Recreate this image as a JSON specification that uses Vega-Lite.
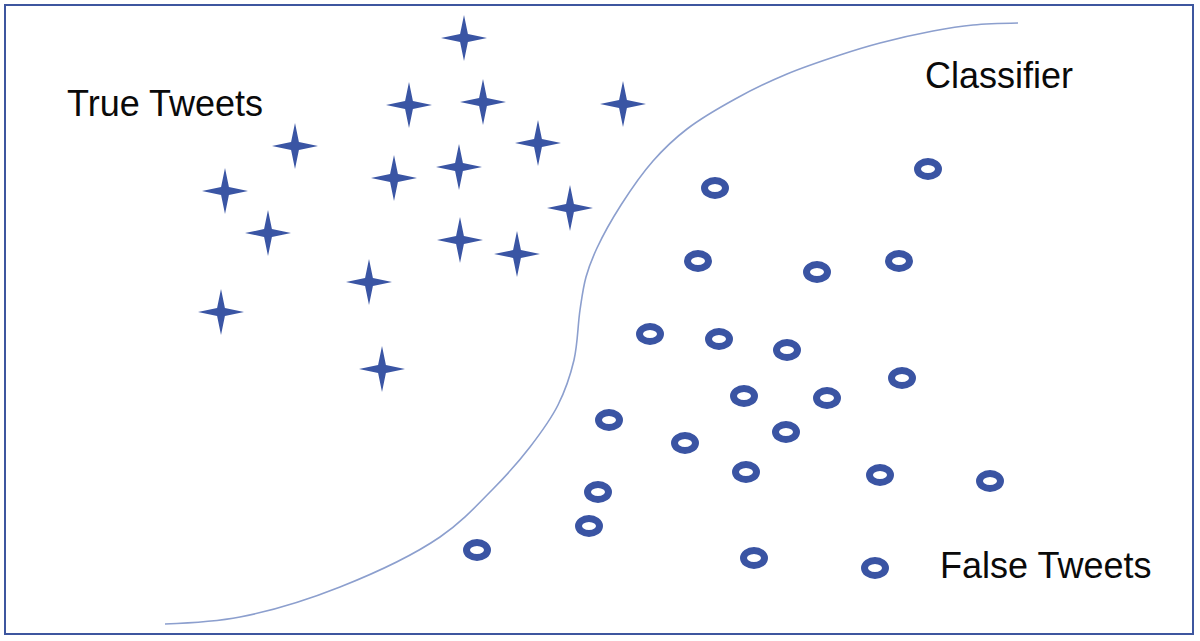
{
  "$schema": "https://vega.github.io/schema/vega-lite/v6.json",
  "width": 1200,
  "height": 641,
  "autosize": {"type": "fit", "contains": "padding"},
  "padding": {"left": 5, "top": 5, "right": 7, "bottom": 7},
  "background": "white",
  "view": {"stroke": "#3d569f", "strokeWidth": 2, "fill": "white"},
  "datasets": {
    "stars": [
      {"x": 464, "y": 38}, {"x": 409, "y": 105}, {"x": 483, "y": 102},
      {"x": 623, "y": 104}, {"x": 295, "y": 146}, {"x": 538, "y": 143},
      {"x": 225, "y": 191}, {"x": 394, "y": 178}, {"x": 459, "y": 167},
      {"x": 570, "y": 208}, {"x": 268, "y": 233}, {"x": 460, "y": 240},
      {"x": 517, "y": 254}, {"x": 369, "y": 282}, {"x": 221, "y": 312},
      {"x": 382, "y": 369}
    ],
    "rings": [
      {"x": 928, "y": 169}, {"x": 715, "y": 188}, {"x": 698, "y": 261},
      {"x": 817, "y": 272}, {"x": 899, "y": 261}, {"x": 650, "y": 334},
      {"x": 719, "y": 339}, {"x": 787, "y": 350}, {"x": 902, "y": 378},
      {"x": 744, "y": 396}, {"x": 827, "y": 398}, {"x": 609, "y": 420},
      {"x": 685, "y": 443}, {"x": 786, "y": 432}, {"x": 746, "y": 472},
      {"x": 880, "y": 475}, {"x": 990, "y": 481}, {"x": 598, "y": 492},
      {"x": 589, "y": 526}, {"x": 477, "y": 550}, {"x": 754, "y": 558},
      {"x": 875, "y": 568}
    ],
    "curve": [
      {"x": 165, "y": 624}, {"x": 240, "y": 617}, {"x": 340, "y": 587},
      {"x": 440, "y": 537}, {"x": 493, "y": 489}, {"x": 530, "y": 447},
      {"x": 558, "y": 405}, {"x": 574, "y": 360}, {"x": 580, "y": 310},
      {"x": 586, "y": 277}, {"x": 597, "y": 248}, {"x": 621, "y": 205},
      {"x": 653, "y": 161}, {"x": 687, "y": 129}, {"x": 737, "y": 98},
      {"x": 787, "y": 74}, {"x": 840, "y": 55}, {"x": 880, "y": 43},
      {"x": 933, "y": 31}, {"x": 973, "y": 25}, {"x": 1018, "y": 23}
    ],
    "labels": [
      {"label": "True Tweets", "x": 67, "y": 116},
      {"label": "Classifier", "x": 925, "y": 88},
      {"label": "False Tweets", "x": 940, "y": 578}
    ]
  },
  "layer": [
    {
      "data": {"name": "curve"},
      "mark": {"type": "line", "color": "#8c9fce", "strokeWidth": 1.6, "interpolate": "catmull-rom"},
      "encoding": {
        "x": {"field": "x", "type": "quantitative", "axis": null, "scale": {"domain": [5, 1193], "nice": false, "zero": false}},
        "y": {"field": "y", "type": "quantitative", "axis": null, "scale": {"domain": [5, 634], "nice": false, "zero": false, "reverse": true}}
      }
    },
    {
      "data": {"name": "stars"},
      "mark": {
        "type": "point",
        "shape": "M0,-1 L0.17,-0.17 L1,0 L0.17,0.17 L0,1 L-0.17,0.17 L-1,0 L-0.17,-0.17 Z",
        "size": 2116,
        "filled": true,
        "color": "#3a55a4",
        "opacity": 1
      },
      "encoding": {
        "x": {"field": "x", "type": "quantitative"},
        "y": {"field": "y", "type": "quantitative"}
      }
    },
    {
      "data": {"name": "rings"},
      "mark": {
        "type": "point",
        "shape": "M-1,0 C-1,-0.392 -0.552,-0.71 0,-0.71 C0.552,-0.71 1,-0.392 1,0 C1,0.392 0.552,0.71 0,0.71 C-0.552,0.71 -1,0.392 -1,0 Z",
        "size": 441,
        "filled": false,
        "stroke": "#3a54a3",
        "strokeWidth": 7,
        "opacity": 1
      },
      "encoding": {
        "x": {"field": "x", "type": "quantitative"},
        "y": {"field": "y", "type": "quantitative"}
      }
    },
    {
      "data": {"name": "labels"},
      "mark": {
        "type": "text",
        "font": "Liberation Sans",
        "fontSize": 36,
        "align": "left",
        "baseline": "alphabetic",
        "color": "#0a0a0a"
      },
      "encoding": {
        "x": {"field": "x", "type": "quantitative"},
        "y": {"field": "y", "type": "quantitative"},
        "text": {"field": "label"}
      }
    }
  ]
}
